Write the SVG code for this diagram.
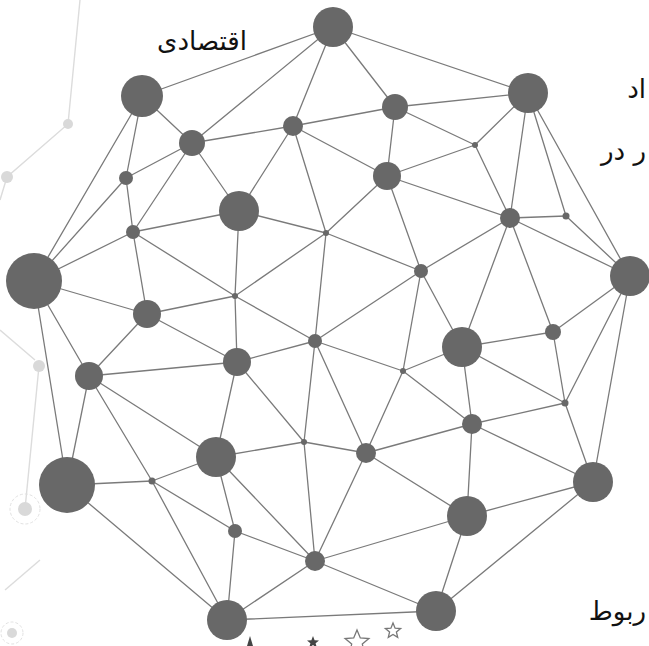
<svg xmlns="http://www.w3.org/2000/svg" width="649" height="646" viewBox="0 0 649 646">
<style>
.e{stroke:#7a7a7a;stroke-width:1.3;fill:none;stroke-linecap:round}
.g{stroke:#dcdcdc;stroke-width:1.4;fill:none}
.gn{fill:#d9d9d9}
.n{fill:#686868}
.t{font-family:"DejaVu Sans",sans-serif;fill:#111;font-size:26px}
.st{fill:none;stroke:#777;stroke-width:1.3}
</style>
<rect width="649" height="646" fill="#ffffff"/>
<g id="ghost">
<path class="g" d="M80,0 L68,124 L7,177 L0,200"/>
<path class="g" d="M39,366 L25,509"/>
<path class="g" d="M40,560 L5,590"/>
<path class="g" d="M0,330 L35,360"/>
<circle class="gn" cx="68" cy="124" r="5"/>
<circle class="gn" cx="7" cy="177" r="6"/>
<circle class="gn" cx="39" cy="366" r="6"/>
<circle class="gn" cx="25" cy="509" r="7"/>
<circle cx="25" cy="509" r="15" fill="none" stroke="#e2e2e2" stroke-dasharray="3 2"/>
<circle class="gn" cx="12" cy="633" r="5"/>
<circle cx="12" cy="633" r="11" fill="none" stroke="#e2e2e2" stroke-dasharray="3 2"/>
</g>
<g id="connectors">
<line class="e" x1="333" y1="27" x2="142" y2="96"/>
<line class="e" x1="333" y1="27" x2="192" y2="143"/>
<line class="e" x1="333" y1="27" x2="293" y2="126"/>
<line class="e" x1="333" y1="27" x2="528" y2="93"/>
<line class="e" x1="333" y1="27" x2="395" y2="107"/>
<line class="e" x1="142" y1="96" x2="192" y2="143"/>
<line class="e" x1="142" y1="96" x2="126" y2="178"/>
<line class="e" x1="142" y1="96" x2="34" y2="281"/>
<line class="e" x1="192" y1="143" x2="293" y2="126"/>
<line class="e" x1="192" y1="143" x2="126" y2="178"/>
<line class="e" x1="192" y1="143" x2="133" y2="232"/>
<line class="e" x1="192" y1="143" x2="239" y2="211"/>
<line class="e" x1="293" y1="126" x2="395" y2="107"/>
<line class="e" x1="293" y1="126" x2="387" y2="176"/>
<line class="e" x1="293" y1="126" x2="326" y2="233"/>
<line class="e" x1="293" y1="126" x2="239" y2="211"/>
<line class="e" x1="126" y1="178" x2="133" y2="232"/>
<line class="e" x1="126" y1="178" x2="34" y2="281"/>
<line class="e" x1="133" y1="232" x2="34" y2="281"/>
<line class="e" x1="133" y1="232" x2="147" y2="314"/>
<line class="e" x1="133" y1="232" x2="239" y2="211"/>
<line class="e" x1="133" y1="232" x2="235" y2="296"/>
<line class="e" x1="395" y1="107" x2="387" y2="176"/>
<line class="e" x1="395" y1="107" x2="528" y2="93"/>
<line class="e" x1="395" y1="107" x2="475" y2="145"/>
<line class="e" x1="475" y1="145" x2="528" y2="93"/>
<line class="e" x1="475" y1="145" x2="387" y2="176"/>
<line class="e" x1="475" y1="145" x2="510" y2="218"/>
<line class="e" x1="387" y1="176" x2="510" y2="218"/>
<line class="e" x1="387" y1="176" x2="326" y2="233"/>
<line class="e" x1="387" y1="176" x2="421" y2="271"/>
<line class="e" x1="239" y1="211" x2="326" y2="233"/>
<line class="e" x1="239" y1="211" x2="235" y2="296"/>
<line class="e" x1="326" y1="233" x2="235" y2="296"/>
<line class="e" x1="326" y1="233" x2="315" y2="341"/>
<line class="e" x1="326" y1="233" x2="421" y2="271"/>
<line class="e" x1="235" y1="296" x2="147" y2="314"/>
<line class="e" x1="235" y1="296" x2="237" y2="362"/>
<line class="e" x1="235" y1="296" x2="315" y2="341"/>
<line class="e" x1="528" y1="93" x2="510" y2="218"/>
<line class="e" x1="528" y1="93" x2="566" y2="216"/>
<line class="e" x1="528" y1="93" x2="630" y2="276"/>
<line class="e" x1="510" y1="218" x2="566" y2="216"/>
<line class="e" x1="510" y1="218" x2="630" y2="276"/>
<line class="e" x1="510" y1="218" x2="421" y2="271"/>
<line class="e" x1="510" y1="218" x2="462" y2="347"/>
<line class="e" x1="510" y1="218" x2="553" y2="332"/>
<line class="e" x1="566" y1="216" x2="630" y2="276"/>
<line class="e" x1="630" y1="276" x2="553" y2="332"/>
<line class="e" x1="630" y1="276" x2="565" y2="403"/>
<line class="e" x1="630" y1="276" x2="593" y2="482"/>
<line class="e" x1="553" y1="332" x2="462" y2="347"/>
<line class="e" x1="553" y1="332" x2="565" y2="403"/>
<line class="e" x1="462" y1="347" x2="421" y2="271"/>
<line class="e" x1="462" y1="347" x2="403" y2="371"/>
<line class="e" x1="462" y1="347" x2="565" y2="403"/>
<line class="e" x1="462" y1="347" x2="472" y2="424"/>
<line class="e" x1="421" y1="271" x2="315" y2="341"/>
<line class="e" x1="421" y1="271" x2="403" y2="371"/>
<line class="e" x1="403" y1="371" x2="315" y2="341"/>
<line class="e" x1="403" y1="371" x2="366" y2="453"/>
<line class="e" x1="403" y1="371" x2="472" y2="424"/>
<line class="e" x1="565" y1="403" x2="472" y2="424"/>
<line class="e" x1="565" y1="403" x2="593" y2="482"/>
<line class="e" x1="472" y1="424" x2="366" y2="453"/>
<line class="e" x1="472" y1="424" x2="467" y2="516"/>
<line class="e" x1="472" y1="424" x2="593" y2="482"/>
<line class="e" x1="34" y1="281" x2="147" y2="314"/>
<line class="e" x1="34" y1="281" x2="89" y2="376"/>
<line class="e" x1="34" y1="281" x2="67" y2="485"/>
<line class="e" x1="147" y1="314" x2="89" y2="376"/>
<line class="e" x1="147" y1="314" x2="237" y2="362"/>
<line class="e" x1="89" y1="376" x2="237" y2="362"/>
<line class="e" x1="89" y1="376" x2="67" y2="485"/>
<line class="e" x1="89" y1="376" x2="152" y2="481"/>
<line class="e" x1="89" y1="376" x2="216" y2="457"/>
<line class="e" x1="237" y1="362" x2="315" y2="341"/>
<line class="e" x1="237" y1="362" x2="216" y2="457"/>
<line class="e" x1="237" y1="362" x2="304" y2="442"/>
<line class="e" x1="315" y1="341" x2="304" y2="442"/>
<line class="e" x1="315" y1="341" x2="366" y2="453"/>
<line class="e" x1="304" y1="442" x2="216" y2="457"/>
<line class="e" x1="304" y1="442" x2="366" y2="453"/>
<line class="e" x1="304" y1="442" x2="315" y2="561"/>
<line class="e" x1="366" y1="453" x2="315" y2="561"/>
<line class="e" x1="366" y1="453" x2="467" y2="516"/>
<line class="e" x1="216" y1="457" x2="152" y2="481"/>
<line class="e" x1="216" y1="457" x2="235" y2="531"/>
<line class="e" x1="216" y1="457" x2="315" y2="561"/>
<line class="e" x1="67" y1="485" x2="152" y2="481"/>
<line class="e" x1="67" y1="485" x2="227" y2="620"/>
<line class="e" x1="152" y1="481" x2="235" y2="531"/>
<line class="e" x1="152" y1="481" x2="227" y2="620"/>
<line class="e" x1="235" y1="531" x2="315" y2="561"/>
<line class="e" x1="235" y1="531" x2="227" y2="620"/>
<line class="e" x1="315" y1="561" x2="227" y2="620"/>
<line class="e" x1="315" y1="561" x2="467" y2="516"/>
<line class="e" x1="315" y1="561" x2="436" y2="611"/>
<line class="e" x1="227" y1="620" x2="436" y2="611"/>
<line class="e" x1="467" y1="516" x2="593" y2="482"/>
<line class="e" x1="467" y1="516" x2="436" y2="611"/>
<line class="e" x1="593" y1="482" x2="436" y2="611"/>
</g>
<g id="nA"><circle class="n" cx="333" cy="27" r="20"/></g>
<g id="nB"><circle class="n" cx="142" cy="96" r="21"/></g>
<g id="nC"><circle class="n" cx="528" cy="93" r="20"/></g>
<g id="nD"><circle class="n" cx="395" cy="107" r="13"/></g>
<g id="nE"><circle class="n" cx="192" cy="143" r="13"/></g>
<g id="nF"><circle class="n" cx="293" cy="126" r="10"/></g>
<g id="nG"><circle class="n" cx="126" cy="178" r="7"/></g>
<g id="nSM"><circle class="n" cx="475" cy="145" r="3"/></g>
<g id="nH"><circle class="n" cx="387" cy="176" r="14"/></g>
<g id="nI"><circle class="n" cx="239" cy="211" r="20"/></g>
<g id="nJ"><circle class="n" cx="133" cy="232" r="7"/></g>
<g id="nK"><circle class="n" cx="510" cy="218" r="10"/></g>
<g id="nL"><circle class="n" cx="566" cy="216" r="3.5"/></g>
<g id="nM"><circle class="n" cx="326" cy="233" r="3"/></g>
<g id="nN"><circle class="n" cx="34" cy="281" r="28"/></g>
<g id="nO"><circle class="n" cx="630" cy="276" r="20"/></g>
<g id="nP"><circle class="n" cx="421" cy="271" r="7"/></g>
<g id="nQ"><circle class="n" cx="147" cy="314" r="14"/></g>
<g id="nR"><circle class="n" cx="235" cy="296" r="3"/></g>
<g id="nS"><circle class="n" cx="462" cy="347" r="20"/></g>
<g id="nT"><circle class="n" cx="553" cy="332" r="8"/></g>
<g id="nU"><circle class="n" cx="315" cy="341" r="7"/></g>
<g id="nV"><circle class="n" cx="89" cy="376" r="14"/></g>
<g id="nW"><circle class="n" cx="237" cy="362" r="14"/></g>
<g id="nX"><circle class="n" cx="403" cy="371" r="3"/></g>
<g id="nY"><circle class="n" cx="565" cy="403" r="3.5"/></g>
<g id="nZ"><circle class="n" cx="472" cy="424" r="10"/></g>
<g id="nAA"><circle class="n" cx="304" cy="442" r="3"/></g>
<g id="nAB"><circle class="n" cx="366" cy="453" r="10"/></g>
<g id="nAC"><circle class="n" cx="216" cy="457" r="20"/></g>
<g id="nAD"><circle class="n" cx="67" cy="485" r="28"/></g>
<g id="nAE"><circle class="n" cx="152" cy="481" r="3.5"/></g>
<g id="nAF"><circle class="n" cx="235" cy="531" r="7"/></g>
<g id="nAG"><circle class="n" cx="467" cy="516" r="20"/></g>
<g id="nAH"><circle class="n" cx="593" cy="482" r="20"/></g>
<g id="nAI"><circle class="n" cx="315" cy="561" r="10"/></g>
<g id="nAJ"><circle class="n" cx="227" cy="620" r="20"/></g>
<g id="nAK"><circle class="n" cx="436" cy="611" r="20"/></g>
<g id="labels">
<text class="t" x="247" y="50" text-anchor="end" letter-spacing="0">اقتصادی</text>
<text class="t" x="646" y="98" text-anchor="end">اد</text>
<text class="t" x="646" y="160" text-anchor="end">ر در</text>
<text class="t" x="646" y="620" text-anchor="end">ربوط</text>
</g>
<g id="stars">
<polygon class="st" points="393,623 395.1,628.2 400.6,628.5 396.4,632 397.7,637.4 393,634.5 388.3,637.4 389.6,632 385.4,628.5 390.9,628.2"/>
<polygon class="st" points="357,630 360.3,638 368.9,638.6 362.3,644.1 364.3,652.5 357,648 349.7,652.5 351.7,644.1 345.1,638.6 353.7,638"/>
<polygon fill="#444" points="313,636 314.6,640.2 319,640.4 315.6,643.2 316.8,647.6 313,645.1 309.2,647.6 310.4,643.2 307,640.4 311.4,640.2"/>
<polygon fill="#444" points="250,636 253,646 247,646"/>
</g>
</svg>
